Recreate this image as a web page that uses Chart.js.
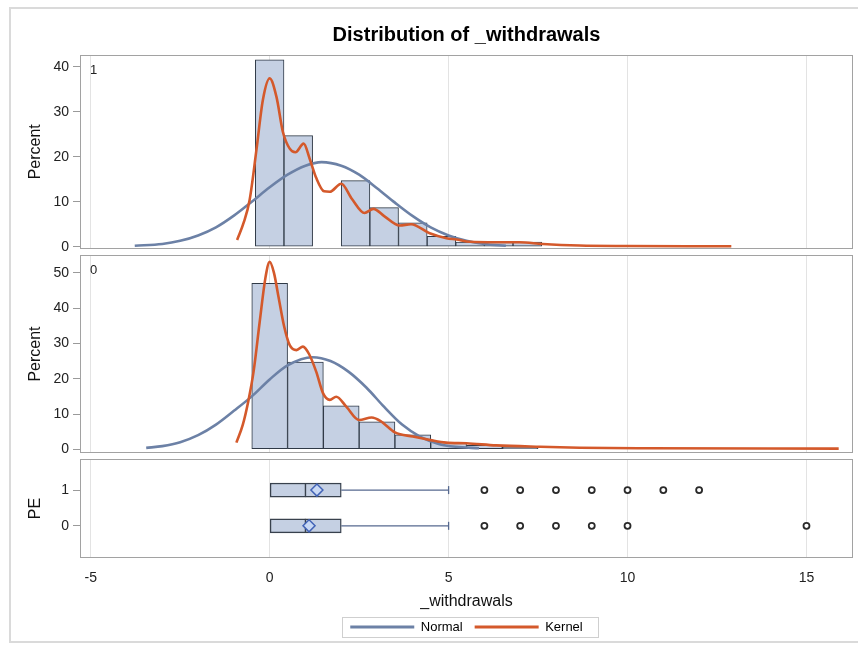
<!DOCTYPE html>
<html>
<head>
<meta charset="utf-8">
<script src="https://cdn.jsdelivr.net/npm/chart.js"></script>
<style>
html, body { margin: 0; padding: 0; background: #ffffff; width: 858px; height: 648px; overflow: hidden; }
#frame { position: absolute; left: 9px; top: 7px; width: 900px; height: 632px; border: 2px solid #dadada; }
canvas { position: absolute; left: 0; }
</style>
</head>
<body>
<div id="frame"></div>
<canvas id="cA" width="858" height="262" style="top:0px"></canvas>
<canvas id="cB" width="858" height="224" style="top:242px"></canvas>
<canvas id="cC" width="858" height="202" style="top:446px"></canvas>
<script>
// ---------------- data ----------------
const chartTitle = 'Distribution of _withdrawals';
const xLabel = '_withdrawals';
const seriesNames = ['Normal', 'Kernel'];
const xTicks = [-5, 0, 5, 10, 15];
const pctTicksPE1 = [0, 10, 20, 30, 40];
const pctTicksPE0 = [0, 10, 20, 30, 40, 50];
const peTicks = [0, 1];

// PE = 1 histogram (bin midpoints, percent)
const histMidPE1 = [0, 0.8, 1.6, 2.4, 3.2, 4.0, 4.8, 5.6, 6.4, 7.2];
const histPctPE1 = [41.5, 24.7, 0, 14.7, 8.7, 5.3, 2.3, 1.0, 1.0, 1.0];
// PE = 0 histogram
const histMidPE0 = [0, 1, 2, 3, 4, 5, 6, 7];
const histPctPE0 = [47.0, 24.7, 12.3, 7.8, 4.1, 2.0, 1.1, 0.6];

// PE = 1 fitted curves
const normalXPE1 = [-3.77, -3.0, -2.5, -2.0, -1.5, -1.0, -0.5, 0.0, 0.5, 1.0, 1.45, 2.0, 2.5, 3.0, 3.5, 4.0, 4.5, 5.0, 5.5, 6.0, 6.6];
const normalYPE1 = [0.2, 0.6, 1.3, 2.5, 4.3, 6.9, 10.0, 13.2, 16.0, 18.0, 18.8, 18.0, 16.0, 13.0, 9.8, 6.8, 4.3, 2.5, 1.3, 0.6, 0.2];
const kernelXPE1 = [-0.91, -0.72, -0.56, -0.37, -0.19, 0.0, 0.19, 0.37, 0.56, 0.72, 0.95, 1.12, 1.3, 1.52, 1.68, 2.0, 2.3, 2.65, 2.9, 3.2, 3.63, 3.95, 4.47, 4.94, 5.22, 5.6, 6.33, 6.98, 7.63, 8.66, 10.0, 12.9];
const kernelYPE1 = [1.5, 5.5, 10.4, 21.5, 32.6, 37.4, 33.3, 25.5, 21.8, 21.0, 22.9, 19.5, 15.3, 12.3, 12.2, 14.0, 10.6, 7.5, 8.4, 6.8, 4.7, 5.0, 3.0, 1.9, 1.6, 1.1, 1.0, 1.0, 0.6, 0.25, 0.15, 0.1];

// PE = 0 fitted curves
const normalXPE0 = [-3.45, -3.0, -2.5, -2.0, -1.5, -1.0, -0.5, 0.0, 0.5, 1.2, 1.7, 2.2, 2.7, 3.2, 3.7, 4.2, 4.7, 5.2, 5.85];
const normalYPE0 = [0.4, 0.9, 2.0, 4.0, 7.0, 10.9, 15.0, 19.8, 23.8, 26.1, 25.0, 22.0, 17.5, 12.0, 7.0, 3.6, 1.6, 0.7, 0.3];
const kernelXPE0 = [-0.93, -0.75, -0.6, -0.45, -0.28, -0.12, 0.0, 0.12, 0.25, 0.4, 0.56, 0.75, 0.93, 1.1, 1.3, 1.49, 1.68, 1.86, 2.14, 2.5, 2.85, 3.1, 3.5, 4.0, 4.5, 4.93, 5.5, 6.33, 7.56, 8.66, 10.5, 15.9];
const kernelYPE0 = [1.9, 7.0, 13.5, 22.0, 36.0, 48.5, 53.1, 50.0, 43.0, 35.0, 29.5, 28.1, 29.1, 27.0, 22.0, 15.9, 14.0, 14.9, 12.1, 8.3, 9.0, 8.0, 4.8, 3.6, 2.6, 1.9, 1.7, 1.1, 0.7, 0.45, 0.3, 0.2];

// Box plot by PE
const peGroups = [1, 0];
const boxQ1 = [0, 0];
const boxMedian = [1, 1];
const boxQ3 = [2, 2];
const boxMean = [1.32, 1.1];
const whiskerMax = [5, 5];
const outliersPE1 = [6, 7, 8, 9, 10, 11, 12];
const outliersPE0 = [6, 7, 8, 9, 10, 15];

// ---------------- styling ----------------
const FONT = "'Liberation Sans', Arial, Helvetica, sans-serif";
const X_MIN = -5.3, X_MAX = 16.3;
const HIST_FILL = '#c5d0e3';
const HIST_EDGE = '#2f3946';
const NORMAL_COLOR = '#6c81a6';
const KERNEL_COLOR = '#d4592b';
const GRID = '#e3e3e3';
const TICK_MARK = '#9a9a9a';
const TEXT = '#222222';

Chart.defaults.font.family = FONT;
Chart.defaults.color = TEXT;

const pts = (xs, ys) => xs.map((x, i) => ({ x: x, y: ys[i] }));
const setTicks = arr => s => { s.ticks = arr.map(v => ({ value: v })); };

const panelPlugin = {
  id: 'panel',
  afterDraw(chart, args, opts) {
    const { ctx, chartArea: a } = chart;
    ctx.save();
    ctx.strokeStyle = '#a2a2a2';
    ctx.lineWidth = 1;
    ctx.strokeRect(Math.round(a.left) + 0.5, Math.round(a.top) + 0.5,
                   Math.round(a.right - a.left) - 1, Math.round(a.bottom - a.top) - 1);
    if (opts.label) {
      ctx.fillStyle = TEXT;
      ctx.font = '13px ' + FONT;
      ctx.textBaseline = 'middle';
      ctx.textAlign = 'left';
      ctx.fillText(opts.label, a.left + 10, a.top + 15);
    }
    if (opts.legendFrame && chart.legend && chart.legend.legendHitBoxes.length) {
      const hb = chart.legend.legendHitBoxes;
      const l = Math.min(...hb.map(h => h.left)) - 8;
      const r = Math.max(...hb.map(h => h.left + h.width)) + 16;
      const t = hb[0].top - 3.5;
      const b = hb[0].top + hb[0].height + 3.5;
      ctx.strokeStyle = '#cfcfcf';
      ctx.strokeRect(Math.round(l) + 0.5, Math.round(t) + 0.5, Math.round(r - l), Math.round(b - t));
    }
    ctx.restore();
  }
};

function histXScale() {
  return {
    type: 'linear', min: X_MIN, max: X_MAX, offset: false,
    afterBuildTicks: setTicks(xTicks),
    afterFit: s => { s.height = 0; },
    ticks: { display: false },
    grid: { color: GRID, drawTicks: false, offset: false },
    border: { display: false }
  };
}
function pctYScale(min, max, ticks, title) {
  return {
    type: 'linear', min: min, max: max, offset: false,
    afterBuildTicks: setTicks(ticks),
    afterFit: s => { s.width = 80; },
    ticks: { padding: 4, color: TEXT, font: { size: 14 } },
    grid: { drawOnChartArea: false, drawTicks: true, tickLength: 7, color: TICK_MARK },
    border: { display: false },
    title: { display: true, text: title, color: '#111', font: { size: 16 }, padding: { top: 26.4, bottom: 0 } }
  };
}
function histDatasets(mids, pcts, nx, ny, kx, ky) {
  return [
    { type: 'bar', label: 'Histogram', data: pts(mids, pcts), backgroundColor: HIST_FILL,
      borderColor: HIST_EDGE, borderWidth: 1, borderSkipped: false,
      barPercentage: 1, categoryPercentage: 1, order: 3 },
    { type: 'line', label: seriesNames[0], data: pts(nx, ny), borderColor: NORMAL_COLOR,
      borderWidth: 2.6, pointRadius: 0, fill: false, cubicInterpolationMode: 'monotone', order: 2 },
    { type: 'line', label: seriesNames[1], data: pts(kx, ky), borderColor: KERNEL_COLOR,
      borderWidth: 2.6, pointRadius: 0, fill: false, cubicInterpolationMode: 'monotone', order: 1 }
  ];
}
const common = { responsive: false, animation: false, devicePixelRatio: 1, events: [] };

// ---------------- chart A: PE = 1 ----------------
new Chart(document.getElementById('cA'), {
  type: 'bar',
  data: { datasets: histDatasets(histMidPE1, histPctPE1, normalXPE1, normalYPE1, kernelXPE1, kernelYPE1) },
  options: Object.assign({}, common, {
    layout: { autoPadding: false, padding: { left: 0, right: 5, top: 0, bottom: 13.5 } },
    scales: { x: histXScale(), y: pctYScale(-0.4, 42.6, pctTicksPE1, 'Percent') },
    plugins: {
      legend: { display: false }, tooltip: { enabled: false },
      title: { display: true, text: chartTitle, fullSize: false, color: '#000',
               font: { size: 20, weight: 'bold' }, padding: { top: 23, bottom: 8 } },
      panel: { label: '1' }
    }
  }),
  plugins: [panelPlugin]
});

// ---------------- chart B: PE = 0 ----------------
new Chart(document.getElementById('cB'), {
  type: 'bar',
  data: { datasets: histDatasets(histMidPE0, histPctPE0, normalXPE0, normalYPE0, kernelXPE0, kernelYPE0) },
  options: Object.assign({}, common, {
    layout: { autoPadding: false, padding: { left: 0, right: 5, top: 13, bottom: 13 } },
    scales: { x: histXScale(), y: pctYScale(-1.05, 55.05, pctTicksPE0, 'Percent') },
    plugins: { legend: { display: false }, tooltip: { enabled: false }, panel: { label: '0' } }
  }),
  plugins: [panelPlugin]
});

// ---------------- chart C: box plots ----------------
const boxDatasets = [
  { type: 'bar', indexAxis: 'y', label: 'Box',
    data: peGroups.map((g, i) => ({ y: g, x: [boxQ1[i], boxQ3[i]] })),
    backgroundColor: HIST_FILL, borderColor: '#38414d', borderWidth: 1.4, borderSkipped: false,
    barThickness: 14, order: 6 }
];
peGroups.forEach((g, i) => {
  boxDatasets.push({ type: 'line', label: 'Whisker', data: [{ x: boxQ3[i], y: g }, { x: whiskerMax[i], y: g }],
    borderColor: '#56698f', borderWidth: 1.3, pointRadius: 0, order: 5 });
});
boxDatasets.push(
  { type: 'scatter', label: 'Cap', data: peGroups.map((g, i) => ({ x: whiskerMax[i], y: g })),
    pointStyle: 'line', rotation: 90, radius: 4, borderColor: '#56698f', borderWidth: 1.3, order: 4 },
  { type: 'scatter', label: 'Median', data: peGroups.map((g, i) => ({ x: boxMedian[i], y: g })),
    pointStyle: 'line', rotation: 90, radius: 7, borderColor: '#38414d', borderWidth: 1.4, order: 3 },
  { type: 'scatter', label: 'Mean', data: peGroups.map((g, i) => ({ x: boxMean[i], y: g })),
    pointStyle: 'rectRot', radius: 6, backgroundColor: '#c8d8f4', borderColor: '#4263b6', borderWidth: 1.5, order: 2 },
  { type: 'scatter', label: 'Outliers',
    data: outliersPE1.map(x => ({ x: x, y: 1 })).concat(outliersPE0.map(x => ({ x: x, y: 0 }))),
    pointStyle: 'circle', radius: 3, backgroundColor: '#ffffff', borderColor: '#2a2a2a', borderWidth: 1.8, order: 1 }
);

new Chart(document.getElementById('cC'), {
  type: 'bar',
  data: { datasets: boxDatasets },
  options: Object.assign({}, common, {
    layout: { autoPadding: false, padding: { left: 0, right: 5, top: 13, bottom: 4.5 } },
    scales: {
      x: {
        type: 'linear', min: X_MIN, max: X_MAX, offset: false,
        afterBuildTicks: setTicks(xTicks),
        afterFit: s => { s.height = 50.5; },
        ticks: { padding: 12, color: TEXT, font: { size: 14 }, maxRotation: 0 },
        grid: { color: GRID, drawTicks: false, offset: false },
        border: { display: false },
        title: { display: true, text: xLabel, color: '#111', font: { size: 16 }, padding: { top: 0, bottom: -3 } }
      },
      y: {
        type: 'linear', min: -0.9, max: 1.87, offset: false,
        afterBuildTicks: setTicks(peTicks),
        afterFit: s => { s.width = 80; },
        ticks: { padding: 4, color: TEXT, font: { size: 14 } },
        grid: { drawOnChartArea: false, drawTicks: true, tickLength: 7, color: TICK_MARK, offset: false },
        border: { display: false },
        title: { display: true, text: 'PE', color: '#111', font: { size: 16 }, padding: { top: 26.4, bottom: 0 } }
      }
    },
    plugins: {
      tooltip: { enabled: false },
      panel: { legendFrame: true },
      legend: {
        display: true, position: 'bottom', align: 'center', fullSize: false, onClick: null,
        labels: {
          boxWidth: 64, boxHeight: 3, padding: 12, color: TEXT, font: { size: 13 },
          generateLabels: () => seriesNames.map((t, i) => ({
            text: t, fillStyle: [NORMAL_COLOR, KERNEL_COLOR][i], strokeStyle: [NORMAL_COLOR, KERNEL_COLOR][i],
            lineWidth: 0, hidden: false, datasetIndex: i
          }))
        }
      }
    }
  }),
  plugins: [panelPlugin]
});
</script>
</body>
</html>
